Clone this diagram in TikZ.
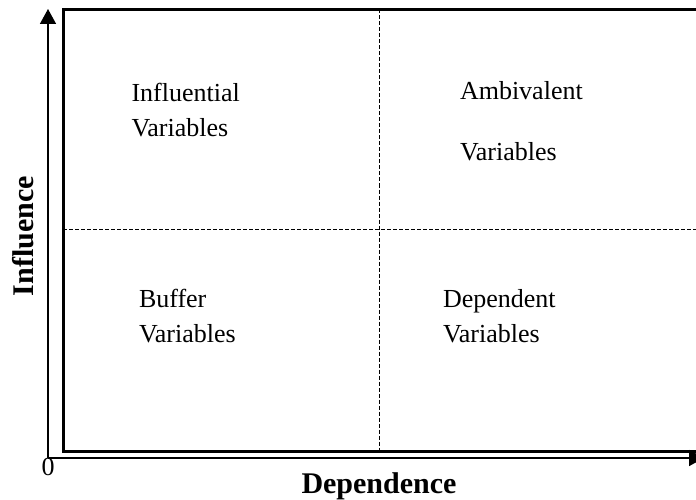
\documentclass[tikz,border=0pt]{standalone}
\usepackage{fontspec}
\setmainfont{Liberation Serif}
\usetikzlibrary{arrows.meta, positioning}

\begin{document}
\begin{tikzpicture}[
    x=1pt, y=-1pt,
    every node/.style={inner sep=0pt, outer sep=0pt},
    quad/.style={anchor=north west, align=left, font=\fontsize{26}{35}\selectfont},
    axlabel/.style={font=\fontsize{30}{36}\selectfont\bfseries},
    axis/.style={line width=1.6pt, -{Triangle[length=15pt, width=16pt]}},
    split/.style={dash pattern=on 4pt off 2pt, line width=1pt},
  ]
  \useasboundingbox (0,0) rectangle (696,500);
  \clip (0,0) rectangle (696,500);

  % axes
  \coordinate (o) at (48,458);
  \coordinate (ytop) at (48,9);
  \coordinate (xend) at (704,458);
  \draw[axis] (o) -- (ytop);
  \draw[axis] (o) -- (xend);

  % frame and quadrant split
  \draw[line width=3pt] (702,9.5) -| (63,451.5) -- (702,451.5);
  \coordinate (vtop) at (379,9.5);
  \coordinate (vbot) at (379,451.5);
  \coordinate (hleft) at (63,229.3);
  \coordinate (hright) at (702,229.3);
  \draw[split] (vtop) -- (vbot);
  \draw[split] (hleft) -- (hright);

  % quadrants
  \node[quad] (infl) at (131.5,83) {Influential\\Variables};
  \node[quad] (ambi) at (460,81) {Ambivalent\\[26pt]Variables};
  \node[quad] (buff) at (139,289) {Buffer\\Variables};
  \node[quad] (depd) at (443,289) {Dependent\\Variables};

  % axis labels
  \node[below=0pt of o, font=\fontsize{26}{30}\selectfont] (zero) {0};
  \node[axlabel, anchor=north] (dep) at (379,472.5) {Dependence};
  \node[axlabel, rotate=90, anchor=base] (infax) at (33,236) {Influence};
\end{tikzpicture}
\end{document}
